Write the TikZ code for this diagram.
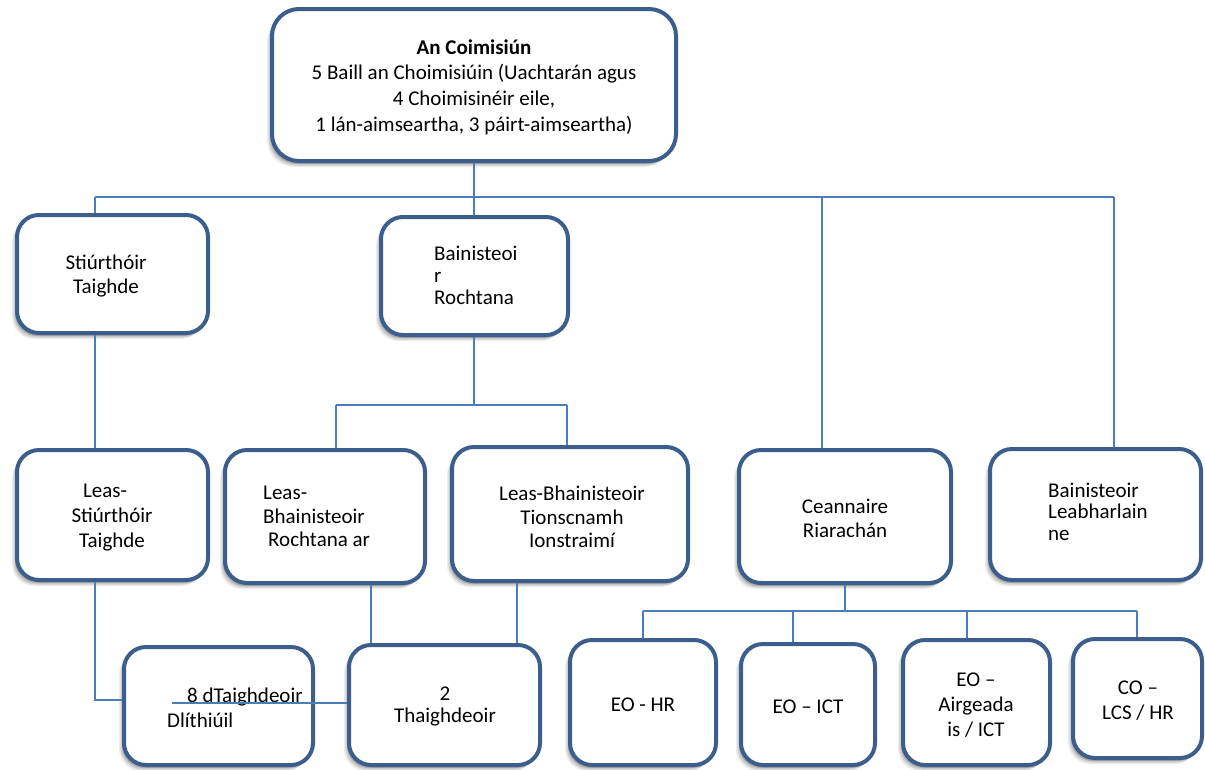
\documentclass[tikz,border=0pt]{standalone}
\usepackage{fontspec}
\setmainfont{Carlito}
\usetikzlibrary{shadows}
\definecolor{boxblue}{HTML}{3B5E8C}
\definecolor{lineblue}{HTML}{4A7EBB}
\begin{document}
\begin{tikzpicture}[x=1pt,y=-1pt,
  box/.style={draw=boxblue, line width=4pt, fill=white, rounded corners=22pt, inner sep=0pt,
     drop shadow={shadow xshift=-5pt, shadow yshift=-6pt, opacity=0.08, fill=black},
     drop shadow={shadow xshift=-3.5pt, shadow yshift=-4.5pt, opacity=0.12, fill=black},
     drop shadow={shadow xshift=-2pt, shadow yshift=-3pt, opacity=0.18, fill=black}},
  conn/.style={draw=lineblue, line width=1.5pt},
  txt/.style={inner sep=0pt, font=\fontsize{21}{25}\selectfont, align=center, text=black},
  tight/.style={font=\fontsize{21}{22}\selectfont}]
\useasboundingbox (0,0) rectangle (1205,769);
\fill[white] (0,0) rectangle (1205,769);

% connector coordinates
\coordinate (j0) at (474,197);
\coordinate (c1) at (95,197);
\coordinate (c3) at (822,197);
\coordinate (c4) at (1114,197);
\coordinate (j1) at (474,405);
\coordinate (b1) at (336,405);
\coordinate (b2) at (567,405);
\coordinate (c5) at (95,700);
\coordinate (c6) at (371,600);
\coordinate (c6b) at (517,600);
\coordinate (c7) at (172,703);
\coordinate (j2) at (845,611);
\coordinate (d1) at (643,611);
\coordinate (d2) at (793,611);
\coordinate (d3) at (967,611);
\coordinate (d4) at (1137,611);

% boxes
\node[box, rounded corners=27pt, minimum width=404pt, minimum height=152pt] (top) at (474,85) {};
\node[box, minimum width=191pt, minimum height=118pt] (stiur) at (112.5,274) {};
\node[box, minimum width=187pt, minimum height=118pt] (bain) at (474.5,276) {};
\node[box, minimum width=191pt, minimum height=130pt] (leasstiur) at (112.5,515) {};
\node[box, minimum width=200pt, minimum height=133pt] (leasbainR) at (325,516.5) {};
\node[box, minimum width=236pt, minimum height=134pt] (leasbainT) at (570,514) {};
\node[box, minimum width=212pt, minimum height=133pt] (ceann) at (845,516.5) {};
\node[box, minimum width=211pt, minimum height=131pt] (leabh) at (1095.5,514.5) {};
\node[box, minimum width=189pt, minimum height=118pt] (taigh8) at (218.5,706) {};
\node[box, minimum width=191pt, minimum height=120pt] (taigh2) at (444.5,705) {};
\node[box, minimum width=146pt, minimum height=125pt] (eohr) at (643,702.5) {};
\node[box, minimum width=134pt, minimum height=121pt] (eoict) at (808,704.5) {};
\node[box, minimum width=147pt, minimum height=125pt] (eoairg) at (976.5,702.5) {};
\node[box, minimum width=129pt, minimum height=119pt] (co) at (1137.5,698.5) {};

% connectors
\draw[conn] (top.south) -- (j0);
\draw[conn] (c1) -- (c4);
\draw[conn] (c1) -- (c1 |- stiur.north);
\draw[conn] (j0) -- (j0 |- bain.north);
\draw[conn] (c3) -- (c3 |- ceann.north);
\draw[conn] (c4) -- (c4 |- leabh.north);
\draw[conn] (stiur.south -| c1) -- (leasstiur.north -| c1);
\draw[conn] (bain.south -| j1) -- (j1);
\draw[conn] (b1) -- (b2);
\draw[conn] (b1) -- (b1 |- leasbainR.north);
\draw[conn] (b2) -- (b2 |- leasbainT.north);
\draw[conn] (leasstiur.south -| c5) -- (c5) -- (c5 -| taigh8.west);
\draw[conn] (leasbainR.south -| c6) -- (taigh2.north -| c6);
\draw[conn] (leasbainT.south -| c6b) -- (taigh2.north -| c6b);
\draw[conn] (ceann.south -| j2) -- (j2);
\draw[conn] (d1) -- (d4);
\draw[conn] (d1) -- (d1 |- eohr.north);
\draw[conn] (d2) -- (d2 |- eoict.north);
\draw[conn] (d3) -- (d3 |- eoairg.north);
\draw[conn] (d4) -- (d4 |- co.north);

% texts
\node[txt, font=\fontsize{21}{25.7}\selectfont] (ttop) at (474,87) {\textbf{An Coimisiún}\\5 Baill an Choimisiúin (Uachtarán agus\\4 Choimisinéir eile,\\1 lán-aimseartha, 3 páirt-aimseartha)};
\node[txt, font=\fontsize{21}{24}\selectfont] (tstiur) at (106,276) {Stiúrthóir\\Taighde};
\node[txt, tight, align=left, anchor=west] (tbain) at (434,275) {Bainisteoi\\r\\Rochtana};
\node[txt] (tleasstiur) at (112,518) {Leas-\hspace*{14pt}\\Stiúrthóir\\Taighde};
\node[txt, font=\fontsize{21}{23.5}\selectfont, align=left, anchor=west] (tleasbainR) at (263,516.5) {Leas-\\Bhainisteoir\\\hspace*{5pt}Rochtana ar};
\node[txt, font=\fontsize{21}{23.5}\selectfont] (tleasbainT) at (572,517) {Leas-Bhainisteoir\\Tionscnamh\\Ionstraimí};
\node[txt, font=\fontsize{21}{24}\selectfont] (tceann) at (845,518) {Ceannaire\\Riarachán};
\node[txt, font=\fontsize{21}{21.5}\selectfont, align=left, anchor=west] (tleabh) at (1048,511.5) {Bainisteoir\\Leabharlain\\ne};
\node[txt, align=left, anchor=west] (ttaigh8) at (167,707.5) {\hspace*{20pt}8 dTaighdeoir\\Dlíthiúil};
\node[txt, tight] (ttaigh2) at (445,706) {2\\Thaighdeoir};
\node[txt] (teohr) at (643,705) {EO - HR};
\node[txt] (teoict) at (808,707) {EO – ICT};
\node[txt] (teoairg) at (976,705) {EO –\\Airgeada\\is / ICT};
\node[txt] (tco) at (1138,700.5) {CO –\\LCS / HR};

% line crossing the research box
\draw[conn] (c7) -- (c7 -| taigh2.west);
\end{tikzpicture}
\end{document}
